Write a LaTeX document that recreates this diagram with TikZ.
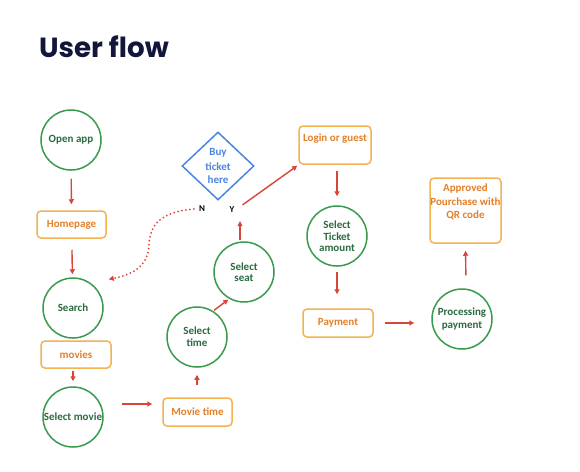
\documentclass[tikz,border=0pt]{standalone}
\usepackage{fontspec}
\setmainfont{Carlito}
\newfontfamily\titlefont{Poppins}
\usetikzlibrary{shapes.geometric,arrows.meta}

\definecolor{flowgreen}{HTML}{3A9B4E}
\definecolor{flowgreentext}{HTML}{2B6B40}
\definecolor{floworange}{HTML}{F4B350}
\definecolor{floworangetext}{HTML}{E3802A}
\definecolor{flowred}{HTML}{D8453B}
\definecolor{flowblue}{HTML}{4A86E0}
\definecolor{titlenavy}{HTML}{12163A}

\tikzset{
  stepcircle/.style={circle,draw=flowgreen,line width=1.5pt,minimum size=60pt,inner sep=0pt,
    align=center,text=flowgreentext,font=\bfseries\fontsize{11}{12.5}\selectfont},
  stepbox/.style={rectangle,rounded corners=4pt,draw=floworange,line width=1.5pt,inner sep=0pt,
    align=center,text=floworangetext,font=\bfseries\fontsize{11}{13}\selectfont},
  boxtext/.style={align=center,text=floworangetext,font=\bfseries\fontsize{11}{13.5}\selectfont},
  choice/.style={diamond,draw=flowblue,line width=1.5pt,minimum width=72pt,minimum height=68pt,
    inner sep=0pt,align=center,text=flowblue,font=\bfseries\fontsize{11}{14}\selectfont},
  answer/.style={font=\bfseries\fontsize{9}{10}\selectfont,text=black,inner sep=1pt},
  flow/.style={draw=flowred,line width=1.4pt,-{Triangle[length=5pt,width=5pt]}},
  dotflow/.style={draw=flowred,line width=2pt,line cap=round,dash pattern=on 0pt off 4pt,
    -{Triangle[length=5pt,width=5pt]}}
}

\begin{document}
\begin{tikzpicture}[x=1pt,y=-1pt]
    \useasboundingbox[fill=white] (0,0) rectangle (580,471);

    \node[anchor=base west,inner sep=0pt,text=titlenavy,font=\titlefont\bfseries\fontsize{27.7}{32}\selectfont]
      (title) at (39,57) {User flow};

    % left column
    \node[stepcircle] (openapp) at (71,140) {Open app};
    \node[stepbox,minimum width=69pt,minimum height=27pt] (homepage) at (71.5,224.5) {Homepage};
    \node[stepcircle] (search) at (73,308) {Search};
    \node[stepbox,minimum width=70pt,minimum height=27pt] (movies) at (76,354.5) {movies};
    \node[stepcircle] (selmovie) at (73,417) {Select movie};

    % middle
    \node[stepbox,minimum width=69pt,minimum height=28pt] (movietime) at (197.5,412) {Movie time};
    \node[stepcircle] (seltime) at (197,337) {\raisebox{-6pt}{\shortstack{Select\\[1pt]time}}};
    \node[stepcircle] (selseat) at (244,272) {\raisebox{-6pt}{\shortstack{Select\\[1pt]seat}}};
    \node[choice] (buy) at (218,166) {\raisebox{-2pt}{\shortstack{Buy\\[2pt]ticket\\[2pt]here}}};
    \node[answer] (nlab) at (202,209) {N};
    \node[answer] (ylab) at (232,210) {Y};

    % right
    \node[stepbox,minimum width=72pt,minimum height=38pt] (login) at (335,145) {};
    \node[boxtext,anchor=north] (logintxt) at ([yshift=-5pt]login.north) {Login or guest};
    \node[stepcircle] (selticket) at (337,236) {\raisebox{-3pt}{\shortstack{Select\\[1pt]Ticket\\[1pt]amount}}};
    \node[stepbox,minimum width=70pt,minimum height=28pt] (payment) at (338,323) {Payment};
    \node[stepcircle] (processing) at (462,319) {Processing\\payment};
    \node[stepbox,minimum width=71pt,minimum height=65pt] (approved) at (465.5,210.5) {};
    \node[boxtext,anchor=north] (approvedtxt) at ([yshift=-3pt]approved.north) {Approved\\Pourchase with\\QR code};

    % connectors
    \draw[flow,shorten <=8pt,shorten >=6pt] (openapp) -- (homepage);
    \draw[flow,shorten <=11pt,shorten >=3pt] (homepage) -- (search);
    \draw[flow,shorten <=2pt,shorten >=5pt] (movies.south -| selmovie.north) -- (selmovie.north);
    \draw[flow] ([xshift=18pt,yshift=13pt]selmovie.east) -- ([xshift=-10pt,yshift=8pt]movietime.west);
    \draw[flow,shorten <=12pt,shorten >=7pt] (movietime.north -| seltime.south) -- (seltime.south);
    \draw[flow,shorten <=1pt,shorten >=1pt] (seltime.58) -- (selseat.241);
    \draw[flow,shorten <=1pt] ([xshift=-4pt]selseat.north) -- ([xshift=8pt,yshift=-7pt]ylab.south);
    \draw[flow] ([xshift=7pt,yshift=1pt]ylab.north east) -- ([xshift=-1pt,yshift=-1pt]login.south west);
    \draw[dotflow] ([xshift=-4pt]nlab.west) .. controls (160,212) and (150,225) .. (149,245)
      .. controls (148,268) and (130,275) .. ([xshift=14pt,yshift=7pt]search.45);
    \draw[flow,shorten <=6pt,shorten >=9pt] (login.south -| selticket.north) -- (selticket.north);
    \draw[flow,shorten <=5pt,shorten >=14pt] (selticket.south) -- (payment.north -| selticket.south);
    \draw[flow,shorten <=11pt,shorten >=17pt] (payment.east) -- (payment.east -| processing.west);
    \draw[flow,shorten <=13pt,shorten >=7pt] ([xshift=4pt]processing.north) -- (approved.south);
\end{tikzpicture}
\end{document}
